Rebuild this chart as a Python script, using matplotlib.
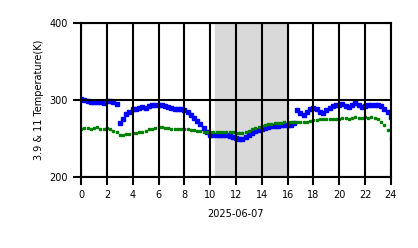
import matplotlib
matplotlib.use("Agg")
import matplotlib.pyplot as plt
import numpy as np

# 3.9 um channel (blue), hours of day
ir39_hours = [0.0, 0.25, 0.5, 0.75, 1.0, 1.25, 1.5, 1.75, 2.0, 2.25, 2.5, 2.75,
              3.0, 3.25, 3.5, 3.75, 4.0, 4.25, 4.5, 4.75, 5.0, 5.25, 5.5, 5.75,
              6.0, 6.25, 6.5, 6.75, 7.0, 7.25, 7.5, 7.75, 8.0, 8.25, 8.5, 8.75,
              9.0, 9.25, 9.5, 9.75, 10.0, 10.25, 10.5, 10.75, 11.0, 11.25, 11.5, 11.75,
              12.0, 12.25, 12.5, 12.75, 13.0, 13.25, 13.5, 13.75, 14.0, 14.25, 14.5, 14.75,
              15.0, 15.25, 15.5, 15.75, 16.0, 16.25, 16.5,
              16.75, 17.0, 17.25, 17.5, 17.75, 18.0, 18.25, 18.5, 18.75, 19.0, 19.25, 19.5,
              19.75, 20.0, 20.25, 20.5, 20.75, 21.0, 21.25, 21.5, 21.75, 22.0, 22.25, 22.5,
              22.75, 23.0, 23.25, 23.5, 23.75, 24.0]
ir39_temp = [302, 300, 299, 298, 298, 297, 298, 296, 299, 299, 297, 295,
             270, 276, 282, 285, 288, 289, 290, 291, 290, 292, 293, 294,
             293, 293, 292, 291, 290, 289, 289, 288, 287, 285, 281, 277,
             273, 269, 264, 259, 255, 254, 255, 254, 254, 254, 253, 252,
             251, 250, 250, 252, 254, 257, 260, 261, 262, 264, 265, 266,
             266, 266, 267, 267, 268, 268, 270,
             287, 283, 280, 285, 288, 290, 288, 284, 283, 287, 290, 292,
             293, 294, 295, 292, 291, 293, 296, 294, 291, 292, 294, 294,
             294, 294, 292, 289, 284, 278]

# 11 um channel (green)
ir11_hours = [0.0, 0.25, 0.5, 0.75, 1.0, 1.25, 1.5, 1.75, 2.0, 2.25, 2.5, 2.75,
              3.0, 3.25, 3.5, 3.75, 4.0, 4.25, 4.5, 4.75, 5.0, 5.25, 5.5, 5.75,
              6.0, 6.25, 6.5, 6.75, 7.0, 7.25, 7.5, 7.75, 8.0, 8.25, 8.5, 8.75,
              9.0, 9.25, 9.5, 9.75, 10.0, 10.25, 10.5, 10.75, 11.0, 11.25, 11.5, 11.75,
              12.0, 12.25, 12.5, 12.75, 13.0, 13.25, 13.5, 13.75, 14.0, 14.25, 14.5, 14.75,
              15.0, 15.25, 15.5, 15.75, 16.0, 16.25, 16.5, 16.75, 17.0, 17.25, 17.5, 17.75,
              18.0, 18.25, 18.5, 18.75, 19.0, 19.25, 19.5, 19.75, 20.0, 20.25, 20.5, 20.75,
              21.0, 21.25, 21.5, 21.75, 22.0, 22.25, 22.5, 22.75, 23.0, 23.25, 23.5, 23.75, 24.0]
ir11_temp = [263, 264, 264, 263, 264, 265, 263, 262, 264, 262, 260, 258,
             255, 255, 256, 256, 257, 257, 258, 258, 260, 262, 263, 264,
             265, 265, 264, 264, 263, 263, 263, 262, 262, 262, 261, 261,
             260, 260, 259, 259, 258, 258, 259, 259, 259, 259, 258, 258,
             257, 257, 257, 259, 260, 262, 264, 265, 266, 268, 269, 269,
             270, 270, 270, 271, 271, 272, 272, 272, 272, 272, 272, 273,
             274, 274, 275, 275, 275, 275, 275, 276, 276, 277, 277, 276,
             277, 278, 277, 277, 278, 277, 278, 277, 276, 272, 267, 261, 251]

night_start, night_end = 10.4, 16.0
x_ticks = list(range(0, 25, 2))
y_ticks = [200, 300, 400]

plt.rcParams["font.size"] = 7

fig = plt.figure(figsize=(4.18, 2.48), dpi=100)
ax = fig.add_axes([0.194, 0.286, 0.741, 0.621])

ax.axvspan(night_start, night_end, color="#d9d9d9", zorder=0)
ax.plot(ir39_hours, ir39_temp, "s", color="blue", markersize=2.6, zorder=2)
ax.plot(ir11_hours, ir11_temp, "s", color="green", markersize=2.0, zorder=2)

ax.set_xlim(0, 24)
ax.set_ylim(200, 400)
ax.set_xticks(x_ticks)
ax.set_yticks(y_ticks)
ax.set_axisbelow(False)
ax.grid(True, color="black", linewidth=1.5)
ax.tick_params(direction="out", length=6, width=1.5, color="black", labelsize=7)
for s in ax.spines.values():
    s.set_color("black")
    s.set_linewidth(1.5)

ax.set_xlabel("2025-06-07", fontsize=7, labelpad=6)
ax.set_ylabel("3.9 & 11 Temperature(K)", fontsize=7)

fig.savefig("out.png", dpi=100)
